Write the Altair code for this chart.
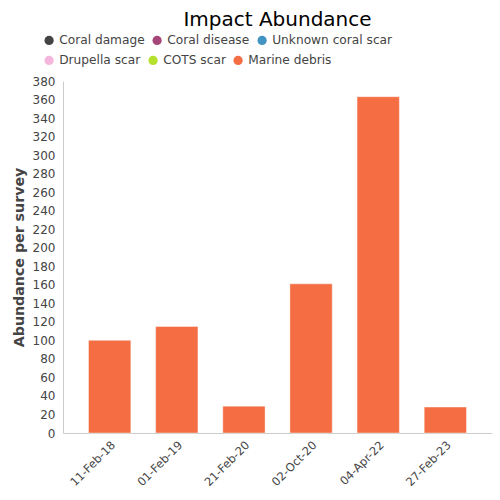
import altair as alt
import pandas as pd

dates = ["11-Feb-18", "01-Feb-19", "21-Feb-20", "02-Oct-20", "04-Apr-22", "27-Feb-23"]
marine_debris = [100, 115, 29, 161, 363, 28]
categories = ["Coral damage", "Coral disease", "Unknown coral scar",
              "Drupella scar", "COTS scar", "Marine debris"]
colors = ["#444444", "#a6477a", "#4393c3", "#f4b6dc", "#b5e02b", "#f46d43"]
y_ticks = list(range(0, 381, 20))

df = pd.DataFrame({"date": dates, "value": marine_debris, "impact": "Marine debris"})
row1 = pd.DataFrame({"impact": categories[:3]})

font = "DejaVu Sans"

legend_style = dict(title=None, direction="horizontal", symbolType="circle",
                    symbolSize=85, symbolStrokeWidth=0, symbolOpacity=1,
                    labelFontSize=12.2, labelFont=font, labelColor="#444444",
                    columnPadding=6, labelOffset=4, orient="none", legendX=-20)

bars = alt.Chart(df).mark_bar(stroke="#ffffff", strokeWidth=1, strokeOpacity=0.4).encode(
    x=alt.X("date:N", sort=dates, title=None,
            scale=alt.Scale(paddingInner=0.37, paddingOuter=0.38),
            axis=alt.Axis(labelAngle=-45, labelColor="#444444", labelFontSize=11.5,
                          labelFont=font, domainColor="#cccccc", ticks=False,
                          labelPadding=6)),
    y=alt.Y("value:Q", title="Abundance per survey",
            scale=alt.Scale(domain=[0, 380], nice=False),
            axis=alt.Axis(values=y_ticks, grid=False, ticks=False, domainColor="#cccccc",
                          labelColor="#444444", labelFontSize=12, labelFont=font,
                          titleColor="#444444", titleFontSize=14.2, titleFont=font,
                          titleFontWeight="bold", labelPadding=8, titlePadding=6)),
    color=alt.Color("impact:N",
                    scale=alt.Scale(domain=categories[3:], range=colors[3:]),
                    legend=alt.Legend(legendY=-27, **legend_style)),
)

row1_legend = alt.Chart(row1).mark_point(filled=True, opacity=0).encode(
    color=alt.Color("impact:N",
                    scale=alt.Scale(domain=categories[:3], range=colors[:3]),
                    legend=alt.Legend(legendY=-47, **legend_style)),
)

chart = alt.layer(bars, row1_legend).resolve_scale(color="independent").resolve_legend(
    color="independent"
).properties(
    width=429, height=352,
    autosize=alt.AutoSizeParams(type="none"),
    padding={"left": 55, "top": 73, "right": 0, "bottom": 59},
    title=alt.TitleParams("Impact Abundance", fontSize=20, font=font, fontWeight="normal",
                          color="#000000", anchor="middle", offset=4),
).configure_view(stroke=None)

chart.save("out.html", embed_options={"renderer": "svg", "actions": False})
